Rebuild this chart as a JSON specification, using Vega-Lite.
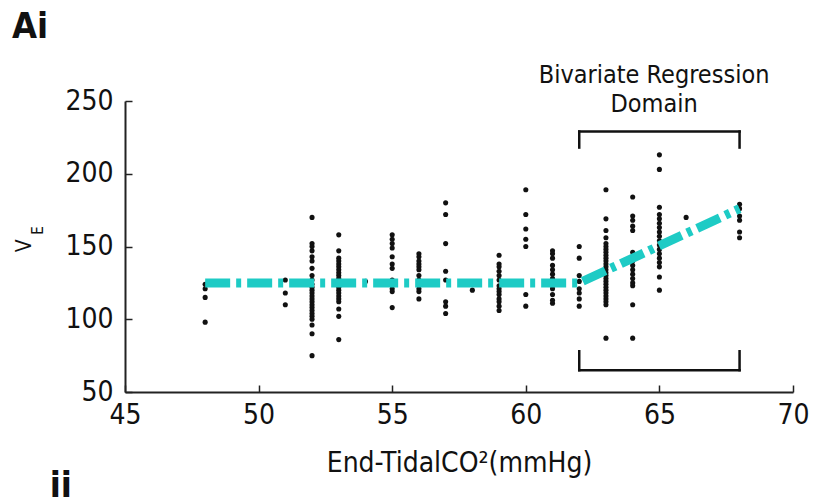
{
  "$schema": "https://vega.github.io/schema/vega-lite/v6.json",
  "width": 668,
  "height": 291,
  "autosize": {"type": "none"},
  "padding": {"left": 125, "top": 101, "right": 21, "bottom": 109},
  "background": "white",
  "title": {"text": "Ai", "anchor": "start", "frame": "group", "fontSize": 36, "fontWeight": "bold", "font": "DejaVu Sans Condensed, DejaVu Sans", "color": "#111", "dx": -113, "offset": 17},
  "config": {
    "view": {"stroke": null},
    "font": "DejaVu Sans Condensed, DejaVu Sans",
    "axis": {
      "grid": false,
      "domainColor": "#222",
      "domainWidth": 2,
      "tickColor": "#222",
      "tickWidth": 1.5,
      "tickSize": -7,
      "labelFont": "DejaVu Sans Condensed, DejaVu Sans",
      "labelFontSize": 28,
      "labelColor": "#111",
      "titleFont": "DejaVu Sans Condensed, DejaVu Sans",
      "titleFontWeight": "normal",
      "titleColor": "#111"
    }
  },
  "datasets": {
    "points": [
      {"etco2": 48, "ve": 124}, {"etco2": 48, "ve": 121}, {"etco2": 48, "ve": 115}, {"etco2": 48, "ve": 98},
      {"etco2": 51, "ve": 127}, {"etco2": 51, "ve": 118}, {"etco2": 51, "ve": 110},
      {"etco2": 52, "ve": 170}, {"etco2": 52, "ve": 152}, {"etco2": 52, "ve": 150}, {"etco2": 52, "ve": 147}, {"etco2": 52, "ve": 143}, {"etco2": 52, "ve": 140}, {"etco2": 52, "ve": 135}, {"etco2": 52, "ve": 130}, {"etco2": 52, "ve": 127}, {"etco2": 52, "ve": 124}, {"etco2": 52, "ve": 122}, {"etco2": 52, "ve": 120}, {"etco2": 52, "ve": 118}, {"etco2": 52, "ve": 116}, {"etco2": 52, "ve": 114}, {"etco2": 52, "ve": 112}, {"etco2": 52, "ve": 110}, {"etco2": 52, "ve": 108}, {"etco2": 52, "ve": 106}, {"etco2": 52, "ve": 104}, {"etco2": 52, "ve": 102}, {"etco2": 52, "ve": 100}, {"etco2": 52, "ve": 96}, {"etco2": 52, "ve": 90}, {"etco2": 52, "ve": 75},
      {"etco2": 53, "ve": 158}, {"etco2": 53, "ve": 147}, {"etco2": 53, "ve": 142}, {"etco2": 53, "ve": 140}, {"etco2": 53, "ve": 138}, {"etco2": 53, "ve": 136}, {"etco2": 53, "ve": 134}, {"etco2": 53, "ve": 132}, {"etco2": 53, "ve": 130}, {"etco2": 53, "ve": 128}, {"etco2": 53, "ve": 126}, {"etco2": 53, "ve": 124}, {"etco2": 53, "ve": 122}, {"etco2": 53, "ve": 120}, {"etco2": 53, "ve": 118}, {"etco2": 53, "ve": 116}, {"etco2": 53, "ve": 114}, {"etco2": 53, "ve": 112}, {"etco2": 53, "ve": 107}, {"etco2": 53, "ve": 102}, {"etco2": 53, "ve": 86},
      {"etco2": 54, "ve": 126},
      {"etco2": 55, "ve": 158}, {"etco2": 55, "ve": 155}, {"etco2": 55, "ve": 152}, {"etco2": 55, "ve": 149}, {"etco2": 55, "ve": 143}, {"etco2": 55, "ve": 138}, {"etco2": 55, "ve": 135}, {"etco2": 55, "ve": 127}, {"etco2": 55, "ve": 121}, {"etco2": 55, "ve": 119}, {"etco2": 55, "ve": 108},
      {"etco2": 56, "ve": 145}, {"etco2": 56, "ve": 143}, {"etco2": 56, "ve": 140}, {"etco2": 56, "ve": 138}, {"etco2": 56, "ve": 136}, {"etco2": 56, "ve": 134}, {"etco2": 56, "ve": 130}, {"etco2": 56, "ve": 127}, {"etco2": 56, "ve": 124}, {"etco2": 56, "ve": 121}, {"etco2": 56, "ve": 119}, {"etco2": 56, "ve": 114},
      {"etco2": 57, "ve": 180}, {"etco2": 57, "ve": 172}, {"etco2": 57, "ve": 152}, {"etco2": 57, "ve": 133}, {"etco2": 57, "ve": 127}, {"etco2": 57, "ve": 112}, {"etco2": 57, "ve": 109}, {"etco2": 57, "ve": 104},
      {"etco2": 58, "ve": 120},
      {"etco2": 59, "ve": 144}, {"etco2": 59, "ve": 138}, {"etco2": 59, "ve": 136}, {"etco2": 59, "ve": 133}, {"etco2": 59, "ve": 130}, {"etco2": 59, "ve": 127}, {"etco2": 59, "ve": 123}, {"etco2": 59, "ve": 121}, {"etco2": 59, "ve": 119}, {"etco2": 59, "ve": 117}, {"etco2": 59, "ve": 114}, {"etco2": 59, "ve": 112}, {"etco2": 59, "ve": 109}, {"etco2": 59, "ve": 106},
      {"etco2": 60, "ve": 189}, {"etco2": 60, "ve": 172}, {"etco2": 60, "ve": 162}, {"etco2": 60, "ve": 155}, {"etco2": 60, "ve": 150}, {"etco2": 60, "ve": 117}, {"etco2": 60, "ve": 109},
      {"etco2": 61, "ve": 147}, {"etco2": 61, "ve": 145}, {"etco2": 61, "ve": 142}, {"etco2": 61, "ve": 137}, {"etco2": 61, "ve": 134}, {"etco2": 61, "ve": 131}, {"etco2": 61, "ve": 128}, {"etco2": 61, "ve": 123}, {"etco2": 61, "ve": 121}, {"etco2": 61, "ve": 117}, {"etco2": 61, "ve": 113}, {"etco2": 61, "ve": 111},
      {"etco2": 62, "ve": 150}, {"etco2": 62, "ve": 142}, {"etco2": 62, "ve": 130}, {"etco2": 62, "ve": 126}, {"etco2": 62, "ve": 121}, {"etco2": 62, "ve": 118}, {"etco2": 62, "ve": 114}, {"etco2": 62, "ve": 109},
      {"etco2": 63, "ve": 189}, {"etco2": 63, "ve": 169}, {"etco2": 63, "ve": 161}, {"etco2": 63, "ve": 156}, {"etco2": 63, "ve": 152}, {"etco2": 63, "ve": 150}, {"etco2": 63, "ve": 148}, {"etco2": 63, "ve": 146}, {"etco2": 63, "ve": 144}, {"etco2": 63, "ve": 142}, {"etco2": 63, "ve": 140}, {"etco2": 63, "ve": 138}, {"etco2": 63, "ve": 136}, {"etco2": 63, "ve": 134}, {"etco2": 63, "ve": 132}, {"etco2": 63, "ve": 130}, {"etco2": 63, "ve": 128}, {"etco2": 63, "ve": 126}, {"etco2": 63, "ve": 124}, {"etco2": 63, "ve": 122}, {"etco2": 63, "ve": 120}, {"etco2": 63, "ve": 118}, {"etco2": 63, "ve": 116}, {"etco2": 63, "ve": 114}, {"etco2": 63, "ve": 112}, {"etco2": 63, "ve": 110}, {"etco2": 63, "ve": 87},
      {"etco2": 64, "ve": 184}, {"etco2": 64, "ve": 171}, {"etco2": 64, "ve": 168}, {"etco2": 64, "ve": 164}, {"etco2": 64, "ve": 161}, {"etco2": 64, "ve": 146}, {"etco2": 64, "ve": 143}, {"etco2": 64, "ve": 140}, {"etco2": 64, "ve": 137}, {"etco2": 64, "ve": 134}, {"etco2": 64, "ve": 131}, {"etco2": 64, "ve": 128}, {"etco2": 64, "ve": 125}, {"etco2": 64, "ve": 123}, {"etco2": 64, "ve": 110}, {"etco2": 64, "ve": 87},
      {"etco2": 65, "ve": 213}, {"etco2": 65, "ve": 203}, {"etco2": 65, "ve": 177}, {"etco2": 65, "ve": 172}, {"etco2": 65, "ve": 169}, {"etco2": 65, "ve": 166}, {"etco2": 65, "ve": 163}, {"etco2": 65, "ve": 160}, {"etco2": 65, "ve": 157}, {"etco2": 65, "ve": 154}, {"etco2": 65, "ve": 151}, {"etco2": 65, "ve": 148}, {"etco2": 65, "ve": 145}, {"etco2": 65, "ve": 142}, {"etco2": 65, "ve": 139}, {"etco2": 65, "ve": 136}, {"etco2": 65, "ve": 129}, {"etco2": 65, "ve": 120},
      {"etco2": 66, "ve": 170},
      {"etco2": 68, "ve": 179}, {"etco2": 68, "ve": 176}, {"etco2": 68, "ve": 171}, {"etco2": 68, "ve": 168}, {"etco2": 68, "ve": 160}, {"etco2": 68, "ve": 156}
    ],
    "fit": [
      {"etco2": 48, "ve": 125}, {"etco2": 62, "ve": 125}, {"etco2": 68, "ve": 176}
    ],
    "brackets": [
      {"etco2": 62, "etco2_end": 68, "ve": 229, "ve_end": 229},
      {"etco2": 62, "etco2_end": 62, "ve": 218, "ve_end": 229},
      {"etco2": 68, "etco2_end": 68, "ve": 218, "ve_end": 229},
      {"etco2": 62, "etco2_end": 68, "ve": 65, "ve_end": 65},
      {"etco2": 62, "etco2_end": 62, "ve": 65, "ve_end": 78},
      {"etco2": 68, "etco2_end": 68, "ve": 65, "ve_end": 78}
    ],
    "annotations": [
      {"etco2": 64.8, "ve": 268, "label": "Bivariate Regression"},
      {"etco2": 64.8, "ve": 248, "label": "Domain"}
    ],
    "ytitle": [
      {"etco2": 41.26, "ve": 150.5, "label": "V"}
    ],
    "subscript": [
      {"etco2": 41.74, "ve": 161, "label": "E"}
    ],
    "panel": [
      {"etco2": 42.6, "ve": -22, "label": "ii"}
    ]
  },
  "encoding": {
    "x": {
      "field": "etco2", "type": "quantitative",
      "scale": {"domain": [45, 70], "nice": false, "zero": false},
      "axis": {"values": [45, 50, 55, 60, 65, 70], "title": "End-TidalCO²(mmHg)", "titleFontSize": 28, "titlePadding": 20, "labelPadding": 16, "labelFlush": false}
    },
    "y": {
      "field": "ve", "type": "quantitative",
      "scale": {"domain": [50, 250], "nice": false, "zero": false},
      "axis": {"values": [50, 100, 150, 200, 250], "title": null, "labelPadding": 19}
    }
  },
  "layer": [
    {
      "data": {"name": "brackets"},
      "mark": {"type": "rule", "color": "#111", "strokeWidth": 2.5, "strokeCap": "square", "clip": false},
      "encoding": {
        "x2": {"field": "etco2_end"},
        "y2": {"field": "ve_end"}
      }
    },
    {
      "data": {"name": "points"},
      "mark": {"type": "circle", "color": "#111", "opacity": 1, "size": 26}
    },
    {
      "data": {"name": "fit"},
      "mark": {"type": "line", "color": "#1ecbc5", "strokeWidth": 9, "strokeDash": [25, 6, 5, 6], "strokeCap": "butt"}
    },
    {
      "data": {"name": "annotations"},
      "mark": {"type": "text", "fontSize": 25, "color": "#111", "align": "center", "baseline": "middle", "clip": false},
      "encoding": {"text": {"field": "label"}}
    },
    {
      "data": {"name": "ytitle"},
      "mark": {"type": "text", "fontSize": 21, "color": "#111", "angle": 270, "align": "center", "baseline": "middle", "clip": false},
      "encoding": {"text": {"field": "label"}}
    },
    {
      "data": {"name": "subscript"},
      "mark": {"type": "text", "fontSize": 15, "color": "#111", "angle": 270, "align": "center", "baseline": "middle", "clip": false},
      "encoding": {"text": {"field": "label"}}
    },
    {
      "data": {"name": "panel"},
      "mark": {"type": "text", "fontSize": 36, "fontWeight": "bold", "color": "#111", "align": "center", "baseline": "alphabetic", "clip": false},
      "encoding": {"text": {"field": "label"}}
    }
  ]
}
